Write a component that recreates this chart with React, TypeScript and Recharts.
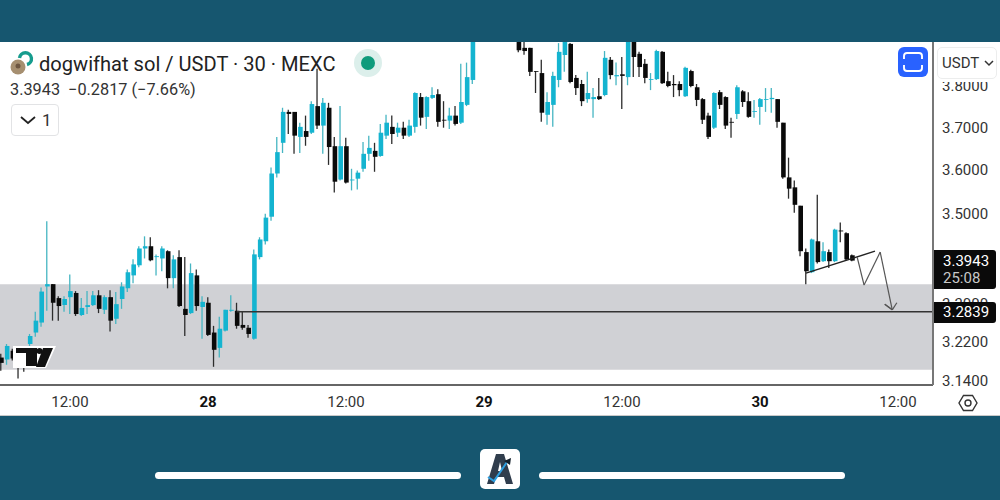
import { BarChart, Bar, Cell, XAxis, YAxis, ReferenceArea, ReferenceLine } from 'recharts'

// 30 minute candles. Index 0 is the 28th at 00:00.
const firstIndex = -36

const opens = [
  3.188, 3.184, 3.202, 3.186, 3.179, 3.216, 3.24, 3.261, 3.338, 3.343, 3.313, 3.298,
  3.315, 3.324, 3.277, 3.294, 3.298, 3.319, 3.288, 3.315, 3.269, 3.311, 3.334, 3.362,
  3.384, 3.421, 3.426, 3.402, 3.399, 3.415, 3.356, 3.402, 3.29, 3.281, 3.362, 3.294,
  3.303, 3.24, 3.208, 3.244, 3.286, 3.286, 3.256, 3.25, 3.227, 3.402, 3.437, 3.492,
  3.591, 3.663, 3.737, 3.737, 3.677, 3.691, 3.687, 3.751, 3.704, 3.747, 3.655, 3.577,
  3.655, 3.575, 3.579, 3.602, 3.637, 3.644, 3.632, 3.68, 3.701, 3.687, 3.699, 3.68,
  3.701, 3.773, 3.725, 3.771, 3.78, 3.718, 3.716, 3.728, 3.711, 3.754, 3.815, 3.93,
  3.98, 4.02, 3.99, 4.03, 3.98, 3.95, 3.92, 3.895, 3.895, 3.837, 3.832, 3.73,
  3.754, 3.815, 3.877, 3.905, 3.82, 3.805, 3.768, 3.768, 3.775, 3.778, 3.865, 3.824,
  3.829, 3.822, 3.91, 3.88, 3.855, 3.815, 3.817, 3.885, 3.812, 3.805, 3.805, 3.775,
  3.837, 3.797, 3.768, 3.728, 3.699, 3.785, 3.773, 3.713, 3.732, 3.787, 3.763, 3.737,
  3.749, 3.766, 3.768, 3.768, 3.711, 3.582, 3.559, 3.517, 3.413, 3.369, 3.437, 3.393,
  3.413, 3.393, 3.461, 3.455, 3.406,
]

const closes = [
  3.177, 3.212, 3.186, 3.183, 3.171, 3.233, 3.265, 3.327, 3.343, 3.303, 3.296, 3.311,
  3.328, 3.279, 3.292, 3.298, 3.319, 3.29, 3.315, 3.265, 3.3, 3.338, 3.369, 3.386,
  3.421, 3.426, 3.395, 3.404, 3.421, 3.356, 3.397, 3.296, 3.277, 3.367, 3.296, 3.305,
  3.235, 3.204, 3.248, 3.288, 3.288, 3.254, 3.25, 3.237, 3.408, 3.441, 3.49, 3.591,
  3.641, 3.737, 3.732, 3.68, 3.701, 3.677, 3.756, 3.704, 3.759, 3.653, 3.572, 3.655,
  3.57, 3.577, 3.593, 3.637, 3.651, 3.63, 3.687, 3.711, 3.684, 3.699, 3.68, 3.704,
  3.783, 3.723, 3.773, 3.778, 3.713, 3.716, 3.728, 3.708, 3.761, 3.822, 3.93, 3.98,
  4.02, 3.99, 4.03, 3.98, 3.95, 3.92, 3.889, 3.887, 3.835, 3.835, 3.735, 3.761,
  3.825, 3.885, 3.915, 3.81, 3.795, 3.763, 3.783, 3.773, 3.768, 3.87, 3.827, 3.827,
  3.825, 3.915, 3.872, 3.847, 3.82, 3.817, 3.887, 3.807, 3.8, 3.802, 3.79, 3.845,
  3.8, 3.766, 3.718, 3.677, 3.783, 3.754, 3.704, 3.711, 3.797, 3.761, 3.725, 3.739,
  3.768, 3.768, 3.771, 3.713, 3.582, 3.556, 3.519, 3.415, 3.371, 3.441, 3.391, 3.415,
  3.393, 3.463, 3.459, 3.397, 3.3943,
]

const highs = [
  3.196, 3.216, 3.206, 3.19, 3.186, 3.237, 3.284, 3.336, 3.482, 3.343, 3.317, 3.317,
  3.364, 3.328, 3.313, 3.328, 3.328, 3.33, 3.319, 3.33, 3.326, 3.347, 3.375, 3.397,
  3.426, 3.448, 3.446, 3.408, 3.426, 3.417, 3.406, 3.417, 3.402, 3.388, 3.375, 3.317,
  3.315, 3.254, 3.273, 3.288, 3.319, 3.303, 3.284, 3.256, 3.419, 3.446, 3.499, 3.605,
  3.677, 3.747, 3.742, 3.737, 3.711, 3.728, 3.763, 3.843, 3.771, 3.759, 3.677, 3.751,
  3.675, 3.602, 3.598, 3.665, 3.68, 3.663, 3.708, 3.73, 3.728, 3.711, 3.713, 3.718,
  3.785, 3.783, 3.775, 3.797, 3.792, 3.763, 3.747, 3.751, 3.855, 3.858, 3.95, 3.99,
  4.03, 4.04, 4.05, 4.04, 3.99, 3.96, 3.93, 3.91, 3.895, 3.837, 3.865, 3.785,
  3.835, 3.907, 3.93, 3.907, 3.827, 3.815, 3.835, 3.795, 3.82, 3.887, 3.872, 3.858,
  3.872, 3.93, 3.915, 3.885, 3.867, 3.832, 3.89, 3.887, 3.835, 3.827, 3.812, 3.848,
  3.84, 3.805, 3.771, 3.735, 3.785, 3.79, 3.775, 3.723, 3.802, 3.79, 3.785, 3.766,
  3.771, 3.795, 3.795, 3.768, 3.711, 3.628, 3.575, 3.517, 3.421, 3.443, 3.542, 3.435,
  3.419, 3.465, 3.479, 3.457, 3.408,
]

const lows = [
  3.161, 3.173, 3.182, 3.145, 3.159, 3.212, 3.231, 3.252, 3.286, 3.265, 3.265, 3.284,
  3.279, 3.275, 3.275, 3.279, 3.296, 3.281, 3.279, 3.242, 3.258, 3.29, 3.326, 3.345,
  3.38, 3.399, 3.393, 3.362, 3.371, 3.334, 3.334, 3.294, 3.233, 3.279, 3.286, 3.227,
  3.233, 3.169, 3.188, 3.242, 3.284, 3.248, 3.246, 3.229, 3.225, 3.397, 3.43, 3.483,
  3.582, 3.639, 3.684, 3.637, 3.639, 3.656, 3.684, 3.696, 3.637, 3.611, 3.547, 3.575,
  3.568, 3.552, 3.554, 3.595, 3.621, 3.595, 3.63, 3.672, 3.66, 3.677, 3.672, 3.677,
  3.687, 3.704, 3.696, 3.768, 3.701, 3.699, 3.696, 3.704, 3.708, 3.751, 3.805, 3.92,
  3.97, 3.98, 3.98, 3.97, 3.94, 3.915, 3.884, 3.878, 3.825, 3.783, 3.713, 3.706,
  3.701, 3.797, 3.835, 3.807, 3.778, 3.751, 3.759, 3.723, 3.766, 3.775, 3.817, 3.802,
  3.744, 3.802, 3.822, 3.822, 3.807, 3.79, 3.815, 3.805, 3.797, 3.773, 3.775, 3.773,
  3.797, 3.751, 3.708, 3.672, 3.696, 3.744, 3.696, 3.675, 3.72, 3.749, 3.723, 3.723,
  3.706, 3.737, 3.735, 3.699, 3.579, 3.533, 3.501, 3.404, 3.343, 3.367, 3.388, 3.391,
  3.378, 3.391, 3.435, 3.395, 3.393,
]

const tickIndexes = [-24, 0, 24, 48, 72, 96, 120]
const tickNames = ['12:00', '28', '12:00', '29', '12:00', '30', '12:00']
const priceTicks = [3.14, 3.22, 3.3, 3.5, 3.6, 3.7, 3.8]

const lastLevel = 3.2839
const zoneTop = 3.343
const zoneBottom = 3.163

// hand drawn lines on the chart, as candle index / price
const trendIndexes = [104, 116]
const trendPrices = [3.367, 3.415]
const pathIndexes = [112.9, 114.1, 116.9, 119, 117.7, 119, 119.8]
const pathPrices = [3.402, 3.341, 3.413, 3.288, 3.3, 3.288, 3.303]

const rows = opens.map((open, i) => ({
  index: firstIndex + i,
  up: closes[i] > open,
  body: [Math.min(open, closes[i]), Math.max(open, closes[i])],
  wick: [lows[i], highs[i]],
}))

const UP = '#14b4d0'
const DOWN = '#0a0a0a'
const UP_WICK = '#45b5c2'
const DOWN_WICK = '#2c2c2c'
const FONT = 'Roboto, sans-serif'

function TimeTick({ x, y, payload }: any) {
  const label = tickNames[tickIndexes.indexOf(payload.value)]
  const bold = label.length === 2
  return (
    <text x={x} y={y + 14} textAnchor="middle" fontFamily={FONT} fontSize={15} fontWeight={bold ? 700 : 400} fill={bold ? '#111' : '#333'}>
      {label}
    </text>
  )
}

function box(left: number, top: number, width: number, height: number, extra: any = {}) {
  return { position: 'absolute', left, top, width, height, ...extra } as any
}

export default function App() {
  return (
    <div style={box(0, 0, 1000, 500, { background: '#16566f', overflow: 'hidden', fontFamily: FONT })}>
      <div style={box(0, 42, 1000, 374, { background: '#fff' })} />

      <div style={box(0, 0, 1000, 500)}>
        <BarChart
          width={1000}
          height={500}
          data={rows}
          margin={{ top: 42, right: 0, bottom: 84, left: 0 }}
          barCategoryGap={0}
        >
          <XAxis
            dataKey="index"
            type="number"
            domain={[-36.174, 126.087]}
            allowDataOverflow
            ticks={tickIndexes}
            tick={<TimeTick />}
            tickLine={false}
            axisLine={{ stroke: '#333', strokeWidth: 1.5 }}
            height={31}
            interval={0}
          />
          <XAxis xAxisId="wick" dataKey="index" type="number" domain={[-36.174, 126.087]} allowDataOverflow hide />
          <YAxis
            orientation="right"
            scale="log"
            domain={[3.1319, 3.9098]}
            allowDataOverflow
            ticks={priceTicks}
            tickFormatter={(v: number) => v.toFixed(4)}
            tick={{ fill: '#333', fontSize: 15, fontFamily: FONT, dx: 1 }}
            tickLine={false}
            axisLine={{ stroke: '#777', strokeWidth: 2 }}
            width={67}
            interval={0}
          />
          <ReferenceArea y1={zoneBottom} y2={zoneTop} fill="#d0d1d5" fillOpacity={1} stroke="none" />
          <ReferenceLine
            segment={[{ x: 5, y: lastLevel }, { x: 126.087, y: lastLevel }]}
            stroke="#333"
            strokeWidth={1.4}
          />
          <Bar xAxisId="wick" dataKey="wick" barSize={1.3} isAnimationActive={false}>
            {rows.map((r) => (
              <Cell key={r.index} fill={r.up ? UP_WICK : DOWN_WICK} />
            ))}
          </Bar>
          <Bar dataKey="body" barSize={4.6} isAnimationActive={false}>
            {rows.map((r) => (
              <Cell key={r.index} fill={r.up ? UP : DOWN} />
            ))}
          </Bar>
          <ReferenceLine
            segment={[
              { x: trendIndexes[0], y: trendPrices[0] },
              { x: trendIndexes[1], y: trendPrices[1] },
            ]}
            stroke="#222"
            strokeWidth={1.4}
          />
          {pathIndexes.slice(1).map((idx, i) => (
            <ReferenceLine
              key={i}
              segment={[
                { x: pathIndexes[i], y: pathPrices[i] },
                { x: idx, y: pathPrices[i + 1] },
              ]}
              stroke="#555"
              strokeWidth={1.2}
            />
          ))}
        </BarChart>
      </div>

      {/* bands around the chart */}
      <div style={box(0, 0, 1000, 42, { background: '#16566f' })} />
      <div style={box(934, 386, 66, 30, { background: '#fff' })} />
      <div style={box(0, 415, 1000, 1, { background: '#c9c9c9' })} />

      {/* header */}
      <svg style={box(8, 50, 30, 30)} viewBox="0 0 30 30">
        <path d="M11.5 8 A6 6 0 1 1 19 14.5" fill="none" stroke="#169c8e" strokeWidth="3.4" />
        <circle cx="10" cy="17" r="7.5" fill="#a68f70" />
        <circle cx="10" cy="16" r="2.5" fill="#6d5640" />
      </svg>
      <div style={box(39, 51, 310, 26, { fontSize: 20.1, lineHeight: '26px', color: '#222', whiteSpace: 'nowrap' })}>
        dogwifhat sol / USDT · 30 · MEXC
      </div>
      <div style={box(10, 80, 220, 20, { fontSize: 16.3, lineHeight: '20px', color: '#333', whiteSpace: 'pre' })}>
        3.3943  −0.2817 (−7.66%)
      </div>
      <div style={box(11, 104, 46, 30, { border: '1px solid #e2e3e5', borderRadius: 4, background: '#fff' })}>
        <svg style={box(7, 9, 18, 12)} viewBox="0 0 18 12">
          <path d="M2 3 L9 9 L16 3" fill="none" stroke="#222" strokeWidth="1.8" />
        </svg>
        <div style={box(30, 3, 14, 24, { fontSize: 17, lineHeight: '24px', color: '#333' })}>1</div>
      </div>

      <div style={box(354, 49, 28, 28, { borderRadius: 14, background: '#dcefeb' })} />
      <div style={box(361, 56, 14, 14, { borderRadius: 7, background: '#0f9b7c' })} />

      {/* screenshot button and currency selector */}
      <div style={box(898, 47, 30, 30, { background: '#2962ff', borderRadius: 6 })}>
        <svg style={box(4, 4, 22, 22)} viewBox="0 0 22 22">
          <path d="M2 8 V5 Q2 2 5 2 H17 Q20 2 20 5 V8 M2 14 V17 Q2 20 5 20 H17 Q20 20 20 17 V14" fill="none" stroke="#fff" strokeWidth="1.9" />
        </svg>
      </div>
      <div style={box(935, 79, 65, 3, { background: '#fff' })} />
      <div style={box(937, 47, 60, 32, { background: '#fff', border: '1px solid #eceded', borderRadius: 5, boxSizing: 'border-box' })}>
        <div style={box(4, 0, 40, 30, { fontSize: 15, lineHeight: '30px', color: '#333' })}>USDT</div>
        <svg style={box(46, 11, 10, 8)} viewBox="0 0 10 8">
          <path d="M1 2 L5 6 L9 2" fill="none" stroke="#333" strokeWidth="1.5" />
        </svg>
      </div>

      {/* price labels */}
      <div style={box(934, 250, 62, 39, { background: '#0a0a0a', borderRadius: '0 3px 3px 0' })}>
        <div style={box(9, 2, 52, 19, { color: '#fff', fontSize: 15, lineHeight: '19px' })}>3.3943</div>
        <div style={box(9, 19, 52, 19, { color: '#c8c8c8', fontSize: 15, lineHeight: '19px' })}>25:08</div>
      </div>
      <div style={box(934, 302, 62, 21, { background: '#0a0a0a', borderRadius: '0 3px 3px 0', color: '#fff', fontSize: 15, lineHeight: '21px', textIndent: 9 })}>
        3.2839
      </div>

      {/* tradingview mark */}
      <svg style={box(12, 345, 45, 24)} viewBox="0 0 45 24">
        <path d="M1 1 H44 L34 23 H1 Z" fill="#fff" />
        <path d="M4 3 H25 V21 H14 V8 H4 Z" fill="#111" />
        <circle cx="27.5" cy="6" r="3" fill="#111" />
        <path d="M31 3 H41 L33 22 H24 Z" fill="#111" />
      </svg>

      {/* settings icon */}
      <svg style={box(958, 393, 20, 20)} viewBox="0 0 20 20">
        <path d="M5.5 2.5 H14.5 L19 10 L14.5 17.5 H5.5 L1 10 Z" fill="none" stroke="#333" strokeWidth="1.4" />
        <circle cx="10" cy="10" r="3" fill="none" stroke="#333" strokeWidth="1.4" />
      </svg>

      {/* footer strip */}
      <div style={box(155, 472, 306, 7, { background: '#fff', borderRadius: 4 })} />
      <div style={box(539, 472, 306, 7, { background: '#fff', borderRadius: 4 })} />
      <div style={box(480, 449, 40, 40, { background: '#fff', borderRadius: 5 })}>
        <svg style={box(4, 3, 32, 34)} viewBox="0 0 32 34">
          <path d="M12 2 H20 L29 32 H22 L20 25 H12 L10 32 H3 Z M14 19 H18 L16 10 Z" fill="#303d4d" fillRule="evenodd" />
          <path d="M4 25 L10 29 L23 10" fill="none" stroke="#2d9fe0" strokeWidth="2" />
          <path d="M20 9 L27 6 L26 13 Z" fill="#14202c" />
        </svg>
      </div>
    </div>
  )
}
